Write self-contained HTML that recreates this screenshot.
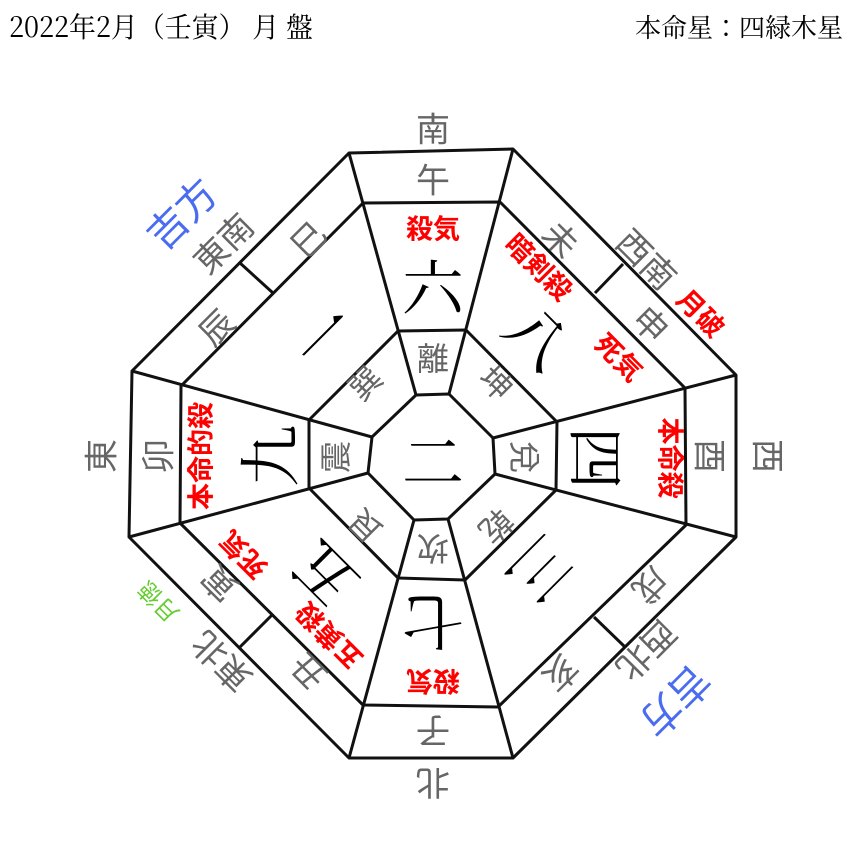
<!DOCTYPE html>
<html><head><meta charset="utf-8"><style>
html,body{margin:0;padding:0;background:#fff;}
svg{display:block}
.t{font-family:"Noto Serif CJK JP",serif;font-size:28px;fill:#000}
.d{font-family:"Noto Sans CJK JP",sans-serif;font-size:34px;fill:#666;text-anchor:middle;dominant-baseline:central}
.g{font-family:"Noto Sans CJK JP",sans-serif;font-size:32px;fill:#666;text-anchor:middle;dominant-baseline:central}
.n{font-family:"Noto Serif CJK JP",serif;font-size:62px;fill:#000;text-anchor:middle;dominant-baseline:central}
.r{font-family:"Noto Sans CJK JP",sans-serif;font-size:27px;font-weight:bold;fill:#f00;text-anchor:middle;dominant-baseline:central}
.b{font-family:"Noto Sans CJK JP",sans-serif;font-size:40px;fill:#4a6cf0;text-anchor:middle;dominant-baseline:central}
.gr{font-family:"Noto Sans CJK JP",sans-serif;font-size:23px;fill:#6c3;text-anchor:middle;dominant-baseline:central}
</style></head><body>
<svg width="860" height="860" viewBox="0 0 860 860" xmlns="http://www.w3.org/2000/svg">
<text class="t" x="9" y="37" textLength="304" lengthAdjust="spacingAndGlyphs">2022年2月（壬寅） 月 盤</text>
<text class="t" x="843" y="37" text-anchor="end" style="font-size:26px">本命星：四緑木星</text>
<g fill="none" stroke="#111" stroke-width="3" stroke-linejoin="round">
<polygon points="349,153 513,149 736,375 736,537 513,758 349,758 129,537 132,371"/>
<polygon points="363,203 500,202 685,388 686,525 498,707 363,705 180,523 181,386"/>
<polygon points="398,331 466,330 557,422 556,490 465,580 398,578 309,488 309,420"/>
<polygon points="416,395 449,394 493,438 495,474 448,519 414,520 368,473 372,437"/>
<line x1="349" y1="153" x2="416" y2="395"/>
<line x1="513" y1="149" x2="449" y2="394"/>
<line x1="736" y1="375" x2="493" y2="438"/>
<line x1="736" y1="537" x2="495" y2="474"/>
<line x1="513" y1="758" x2="448" y2="519"/>
<line x1="349" y1="758" x2="414" y2="520"/>
<line x1="129" y1="537" x2="368" y2="473"/>
<line x1="132" y1="371" x2="372" y2="437"/>
<line x1="240" y1="263" x2="273" y2="293"/>
<line x1="623" y1="264" x2="595" y2="293"/>
<line x1="625" y1="647" x2="594" y2="617"/>
<line x1="239" y1="648" x2="272" y2="615"/>
</g>
<text class="d" transform="translate(433,127)">南</text>
<text class="d" transform="translate(433,785) rotate(180)">北</text>
<text class="d" transform="translate(99,456) rotate(-90)">東</text>
<text class="d" transform="translate(770,456) rotate(90)">西</text>
<text class="d" transform="translate(222,242) rotate(-45)">東南</text>
<text class="d" transform="translate(648,258) rotate(45)">西南</text>
<text class="d" transform="translate(648,652) rotate(135)">西北</text>
<text class="d" transform="translate(220,663) rotate(-135)">東北</text>
<text class="d" transform="translate(433,178)">午</text>
<text class="d" transform="translate(433,733) rotate(180)">子</text>
<text class="d" transform="translate(156,456) rotate(-90)">卯</text>
<text class="d" transform="translate(712,456) rotate(90)">酉</text>
<text class="d" transform="translate(307,238) rotate(-45)">巳</text>
<text class="d" transform="translate(215,326) rotate(-45)">辰</text>
<text class="d" transform="translate(562,238) rotate(45)">未</text>
<text class="d" transform="translate(652,323) rotate(45)">申</text>
<text class="d" transform="translate(652,587) rotate(135)">戌</text>
<text class="d" transform="translate(562,675) rotate(135)">亥</text>
<text class="d" transform="translate(307,673) rotate(-135)">丑</text>
<text class="d" transform="translate(218,585) rotate(-135)">寅</text>
<text class="g" transform="translate(433,357)">離</text>
<text class="g" transform="translate(433,550) rotate(180)">坎</text>
<text class="g" transform="translate(334,457) rotate(-90)">震</text>
<text class="g" transform="translate(526,457) rotate(90)">兌</text>
<text class="g" transform="translate(364,382) rotate(-45)">巽</text>
<text class="g" transform="translate(497,382) rotate(45)">坤</text>
<text class="g" transform="translate(497,527) rotate(135)">乾</text>
<text class="g" transform="translate(364,527) rotate(-135)">艮</text>
<text class="n" transform="translate(433,458)">二</text>
<text class="n" transform="translate(433,284)">六</text>
<text class="n" transform="translate(540,335) rotate(45)">八</text>
<text class="n" transform="translate(600,458) rotate(90)">四</text>
<text class="n" transform="translate(543,572) rotate(135)">三</text>
<text class="n" transform="translate(433,625) rotate(180)">七</text>
<text class="n" transform="translate(322,577) rotate(-135)">五</text>
<text class="n" transform="translate(266,456) rotate(-90)">九</text>
<text class="n" transform="translate(322,335) rotate(-45)">一</text>
<text class="r" transform="translate(433,227)">殺気</text>
<text class="r" transform="translate(540,266) rotate(45)">暗剣殺</text>
<text class="r" transform="translate(620,356) rotate(45)">死気</text>
<text class="r" transform="translate(702,312) rotate(45)">月破</text>
<text class="r" transform="translate(672,458) rotate(90)">本命殺</text>
<text class="r" transform="translate(433,683) rotate(180)">殺気</text>
<text class="r" transform="translate(328,637) rotate(-135)">五黄殺</text>
<text class="r" transform="translate(242,556) rotate(-135)">死気</text>
<text class="r" transform="translate(199,456) rotate(-90)">本命的殺</text>
<text class="gr" transform="translate(157,603) rotate(-135)">月徳</text>
<text class="b" transform="translate(180,212) rotate(-45)">吉方</text>
<text class="b" transform="translate(677,703) rotate(135)">吉方</text>
</svg>
</body></html>
